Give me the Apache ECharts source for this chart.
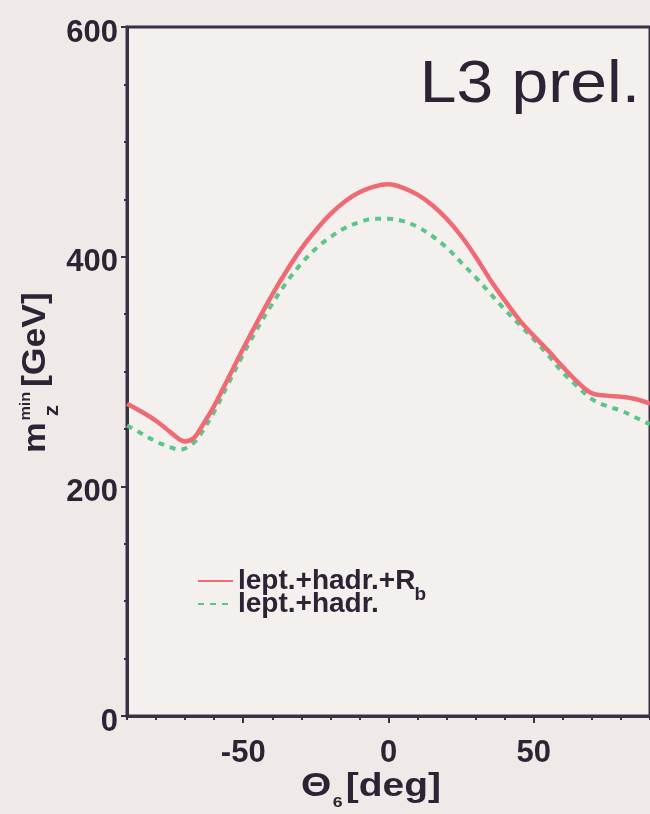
<!DOCTYPE html>
<html>
<head>
<meta charset="utf-8">
<script src="https://cdn.jsdelivr.net/npm/echarts@6/dist/echarts.min.js"></script>
<style>
  html, body { margin: 0; padding: 0; background: #efeae7; }
  #chart { width: 650px; height: 814px; }
</style>
</head>
<body>
<div id="chart"></div>
<script>
// Mixing angle theta_6 in degrees
const thetaDeg = [-90, -85, -80, -75, -72, -70, -67, -65, -60, -55, -50, -45, -40, -35, -30, -25, -20, -15, -10, -5, 0,
                  5, 10, 15, 20, 25, 30, 35, 40, 45, 50, 55, 60, 65, 70, 75, 80, 85, 90];
// Lower limit on Z' mass [GeV], leptonic + hadronic + R_b
const mzLeptHadrRb = [272, 265, 257, 247, 241, 239, 242, 249, 270, 295, 320, 344, 367, 388, 407, 423, 437, 448, 456, 461, 463,
                      460, 454, 445, 433, 418, 400, 380, 362, 345, 331, 318, 304, 291, 281, 279, 278, 276, 272];
// Lower limit on Z' mass [GeV], leptonic + hadronic
const mzLeptHadr = [253, 246, 239, 234, 232, 233, 238, 244, 265, 290, 315, 338, 359, 378, 394, 407, 417, 425, 430, 433, 433,
                    431, 426, 418, 408, 395, 382, 368, 354, 341, 328, 314, 299, 287, 276, 270, 266, 260, 254];
const xMajorTicks = [-50, 0, 50];
const yTicks = [0, 200, 400, 600];
const seriesNames = ['lept.+hadr.+R', 'lept.+hadr.'];

const ink = '#2c2434';
const axisInk = '#3b3045';
const font = '"Liberation Sans", Arial, Helvetica, sans-serif';
const legendFont = 'bold 28px ' + font;

const pairs = (xs, ys) => xs.map((x, i) => [x, ys[i]]);

// width of a legend label, used to place the subscript "b" after "R"
const measure = (text, f) => {
  const ctx = document.createElement('canvas').getContext('2d');
  ctx.font = f;
  return ctx.measureText(text).width;
};

const legendLeft = 197, legendIconW = 35, legendTextStart = 39;
const legendTops = [567, 590];
const legendEntry = (name, top) => ({
  orient: 'vertical', left: legendLeft, top: top, padding: 0,
  itemWidth: legendIconW, itemHeight: 12, itemGap: 0,
  itemStyle: { opacity: 0 },
  data: [name],
  textStyle: { color: ink, fontFamily: font, fontWeight: 'bold', fontSize: 28 }
});

const chart = echarts.init(document.getElementById('chart'));
chart.setOption({
  backgroundColor: '#efeae7',
  animation: false,
  grid: {
    left: 127, top: 27, right: -3, bottom: 98,
    show: true, backgroundColor: '#f4f0ee',
    borderColor: axisInk, borderWidth: 3
  },
  xAxis: [{
    type: 'value', min: -90, max: 90,
    axisLine: { show: true, onZero: false, lineStyle: { color: axisInk, width: 3 } },
    axisTick: { show: true, customValues: xMajorTicks, length: 7, lineStyle: { color: axisInk, width: 2 } },
    axisLabel: {
      customValues: xMajorTicks, margin: 22,
      color: ink, fontFamily: font, fontWeight: 'bold', fontSize: 31
    },
    splitLine: { show: false }
  }, {
    // minor ticks every 10 degrees
    type: 'value', min: -90, max: 90, interval: 10, position: 'bottom',
    axisLine: { show: false },
    axisTick: { show: true, length: 4, lineStyle: { color: axisInk, width: 2 } },
    axisLabel: { show: false },
    splitLine: { show: false }
  }],
  yAxis: {
    type: 'value', min: 0, max: 600, interval: 200,
    axisLine: { show: true, onZero: false, lineStyle: { color: axisInk, width: 3 } },
    axisTick: { show: true, length: 6, lineStyle: { color: axisInk, width: 2 } },
    minorTick: { show: true, splitNumber: 4, length: 3, lineStyle: { color: axisInk, width: 2 } },
    axisLabel: {
      customValues: yTicks, margin: 9, verticalAlign: 'top', lineHeight: 12,
      color: ink, fontFamily: font, fontWeight: 'bold', fontSize: 31
    },
    splitLine: { show: false }
  },
  legend: [legendEntry(seriesNames[0], legendTops[0]), legendEntry(seriesNames[1], legendTops[1])],
  series: [{
    name: seriesNames[0], type: 'line', xAxisIndex: 0,
    data: pairs(thetaDeg, mzLeptHadrRb),
    smooth: 0.35, symbol: 'none', showSymbol: false,
    lineStyle: { color: '#ee6b74', width: 4.5 },
    itemStyle: { color: '#ee6b74' },
    z: 3
  }, {
    name: seriesNames[1], type: 'line', xAxisIndex: 0,
    data: pairs(thetaDeg, mzLeptHadr),
    smooth: 0.35, symbol: 'none', showSymbol: false,
    lineStyle: { color: '#5cc68a', width: 4, type: [6, 6] },
    itemStyle: { color: '#5cc68a' },
    z: 2
  }],
  graphic: [{
    // subscript of R_b in the first legend entry
    type: 'text',
    x: legendLeft + legendTextStart + measure(seriesNames[0], legendFont) + 1,
    y: legendTops[0] + 14 + 14,
    style: { text: 'b', fill: ink, font: 'bold 19px ' + font, verticalAlign: 'middle' }
  }, {
    type: 'text', x: 640, y: 55, scaleX: 1.1,
    style: { text: 'L3 prel.', fill: ink, font: '60px ' + font, align: 'right', verticalAlign: 'top' }
  }, {
    // y-axis title: m_Z^min [GeV], reading bottom to top
    type: 'group', x: 52, y: 453, rotation: Math.PI / 2, scaleX: 1.08,
    children: [
      { type: 'text', x: 0, y: 0, style: { text: 'm', fill: ink, font: 'bold 32px ' + font, verticalAlign: 'bottom' } },
      { type: 'text', x: 30, y: -19, style: { text: 'min', fill: ink, font: 'bold 15px ' + font, verticalAlign: 'bottom' } },
      { type: 'text', x: 34, y: 11, style: { text: 'z', fill: ink, font: 'bold 21px ' + font, verticalAlign: 'bottom' } },
      { type: 'text', x: 61, y: 0, style: { text: '[GeV]', fill: ink, font: 'bold 33px ' + font, verticalAlign: 'bottom' } }
    ]
  }, {
    // x-axis title: Theta_6 [deg]
    type: 'group', x: 301, y: 803, scaleX: 1.18,
    children: [
      { type: 'text', x: 0, y: 0, style: { text: 'Θ', fill: ink, font: 'bold 33px ' + font, verticalAlign: 'bottom' } },
      { type: 'text', x: 27, y: 7, style: { text: '6', fill: ink, font: 'bold 15px ' + font, verticalAlign: 'bottom' } },
      { type: 'text', x: 38, y: 0, style: { text: '[deg]', fill: ink, font: 'bold 33px ' + font, verticalAlign: 'bottom' } }
    ]
  }]
});
</script>
</body>
</html>
